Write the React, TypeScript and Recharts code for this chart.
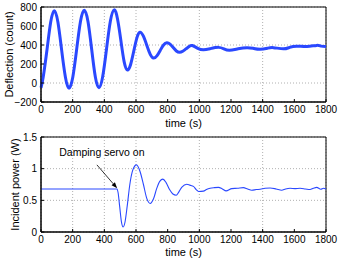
import React from "react";
import {
  LineChart,
  Line,
  XAxis,
  YAxis,
  CartesianGrid,
  ReferenceArea,
  ReferenceLine,
} from "recharts";

// top panel: deflection vs time
const DEFL_TIME = [
  0, 14, 38, 61, 84, 107, 130, 154, 177, 201, 225, 249, 273, 297, 320, 343, 366, 390, 414, 438, 462,
  483, 504, 525, 546, 566, 586, 606, 625, 646, 668, 690, 711, 732, 753, 774, 795, 815, 835, 855, 875,
  895, 915, 935, 955, 990, 1026, 1070, 1121, 1155, 1190, 1245, 1300, 1340, 1384, 1430, 1468, 1531,
  1570, 1615, 1680, 1741, 1770, 1800,
];
const DEFLECTION = [
  -50, 64, 352, 640, 760, 640, 352, 64, -55, 64, 352, 645, 765, 645, 355, 65, -50, 70, 360, 650, 770,
  677, 453, 225, 137, 195, 336, 477, 535, 495, 398, 301, 262, 286, 343, 400, 424, 409, 373, 337, 323,
  334, 359, 384, 395, 365, 350, 362, 375, 360, 345, 360, 372, 365, 355, 366, 372, 360,
  375, 388, 385, 396, 388, 383,
];

// bottom panel: incident power vs time
const POWER_TIME = [
  0, 480, 487, 497, 508, 519, 530, 545, 561, 580, 603, 625, 647, 668, 690, 710, 730, 750, 770, 790,
  812, 833, 854, 870, 890, 921, 940, 963, 980, 995, 1026, 1045, 1068, 1095, 1121, 1145, 1169, 1205,
  1240, 1278, 1305, 1331, 1360, 1384, 1415, 1447, 1485, 1520, 1545, 1573, 1605, 1636, 1670, 1699,
  1720, 1741, 1767, 1785, 1800,
];
const POWER = [
  0.68, 0.68, 0.62, 0.4, 0.16, 0.08, 0.15, 0.42, 0.75, 0.98, 1.06, 0.96, 0.75, 0.53, 0.45, 0.52,
  0.68, 0.8, 0.835, 0.78, 0.67, 0.6, 0.58, 0.63, 0.71, 0.755, 0.74, 0.72, 0.67, 0.64, 0.645, 0.67,
  0.69, 0.7, 0.705, 0.68, 0.65, 0.685, 0.69, 0.7, 0.68, 0.66, 0.67, 0.675, 0.69, 0.695, 0.68, 0.66,
  0.68, 0.69, 0.685, 0.69, 0.68, 0.67, 0.69, 0.705, 0.675, 0.69, 0.675,
];

const TIME_TICKS = [0, 200, 400, 600, 800, 1000, 1200, 1400, 1600, 1800];
const DEFL_TICKS = [-200, 0, 200, 400, 600, 800];
const POWER_TICKS = [0, 0.5, 1, 1.5];

const ANNOTATION = "Damping servo on";
const ARROW_FROM = { x: 353, y: 1.06 };
const ARROW_TO = { x: 481, y: 0.69 };

const FONT = "'Liberation Sans', Arial, Helvetica, sans-serif";
const BLUE = "#2a48ff";
const tickStyle = { fontSize: 10, fill: "#000", fontFamily: FONT };

const deflData = DEFL_TIME.map((t, i) => ({ t, v: DEFLECTION[i] }));
const powerData = POWER_TIME.map((t, i) => ({ t, v: POWER[i] }));

const fmtTick = (v: number) => (v < 0 ? `\u2212${Math.abs(v)}` : `${v}`);

function yLabel(text: string, cx: number) {
  return (props: any) => {
    const vb = props.viewBox || {};
    const cy = vb.y + vb.height / 2;
    return (
      <text
        x={cx}
        y={cy}
        transform={`rotate(-90, ${cx}, ${cy})`}
        textAnchor="middle"
        dominantBaseline="central"
        fontSize={11}
        fontFamily={FONT}
        fill="#000"
      >
        {text}
      </text>
    );
  };
}

function ArrowShape(props: any) {
  const { x1, y1, x2, y2 } = props;
  const dx = x2 - x1;
  const dy = y2 - y1;
  const len = Math.sqrt(dx * dx + dy * dy) || 1;
  const ux = dx / len;
  const uy = dy / len;
  const hl = 6;
  const hw = 2.2;
  const bx = x2 - ux * hl;
  const by = y2 - uy * hl;
  return (
    <g>
      <text
        x={x1 + 5}
        y={y1 - 9}
        textAnchor="middle"
        fontSize={10.5}
        fontFamily={FONT}
        fill="#000"
      >
        {ANNOTATION}
      </text>
      <line x1={x1} y1={y1} x2={bx} y2={by} stroke="#000" strokeWidth={0.8} />
      <polygon
        points={`${x2},${y2} ${bx - uy * hw},${by + ux * hw} ${bx + uy * hw},${by - ux * hw}`}
        fill="#000"
      />
    </g>
  );
}

export default function App() {
  return (
    <div style={{ width: 339, height: 259, background: "#fff", fontFamily: FONT }}>
      <style>{"body{margin:0}"}</style>
      <LineChart
        width={339}
        height={130}
        data={deflData}
        margin={{ top: 7, right: 13, left: 0, bottom: 0 }}
      >
        <CartesianGrid strokeDasharray="1 2" stroke="#b0b0b0" />
        <XAxis
          dataKey="t"
          type="number"
          domain={[0, 1800]}
          ticks={TIME_TICKS}
          height={28}
          stroke="#000"
          tick={tickStyle}
          tickSize={-3}
          tickMargin={7}
          label={{ value: "time (s)", position: "insideBottom", offset: 3, fontSize: 11, fill: "#000", fontFamily: FONT }}
        />
        <YAxis
          type="number"
          domain={[-200, 800]}
          ticks={DEFL_TICKS}
          width={41}
          stroke="#000"
          tick={tickStyle}
          tickSize={-3}
          tickMargin={7}
          tickFormatter={fmtTick}
          label={yLabel("Deflection (count)", 9)}
        />
        <ReferenceArea x1={0} x2={1800} y1={-200} y2={800} fill="none" stroke="#000" strokeWidth={1} />
        <Line
          type="natural"
          dataKey="v"
          stroke={BLUE}
          strokeWidth={3}
          dot={false}
          isAnimationActive={false}
        />
      </LineChart>
      <LineChart
        width={339}
        height={129}
        data={powerData}
        margin={{ top: 7, right: 13, left: 0, bottom: 0 }}
      >
        <CartesianGrid strokeDasharray="1 2" stroke="#b0b0b0" />
        <XAxis
          dataKey="t"
          type="number"
          domain={[0, 1800]}
          ticks={TIME_TICKS}
          height={27}
          stroke="#000"
          tick={tickStyle}
          tickSize={-3}
          tickMargin={7}
          label={{ value: "time (s)", position: "insideBottom", offset: 3, fontSize: 11, fill: "#000", fontFamily: FONT }}
        />
        <YAxis
          type="number"
          domain={[0, 1.5]}
          ticks={POWER_TICKS}
          width={41}
          stroke="#000"
          tick={tickStyle}
          tickSize={-3}
          tickMargin={7}
          label={yLabel("Incident power (W)", 15)}
        />
        <ReferenceArea x1={0} x2={1800} y1={0} y2={1.5} fill="none" stroke="#000" strokeWidth={1} />
        <ReferenceLine segment={[ARROW_FROM, ARROW_TO]} shape={ArrowShape} />
        <Line
          type="monotone"
          dataKey="v"
          stroke={BLUE}
          strokeWidth={1.1}
          dot={false}
          isAnimationActive={false}
        />
      </LineChart>
    </div>
  );
}
